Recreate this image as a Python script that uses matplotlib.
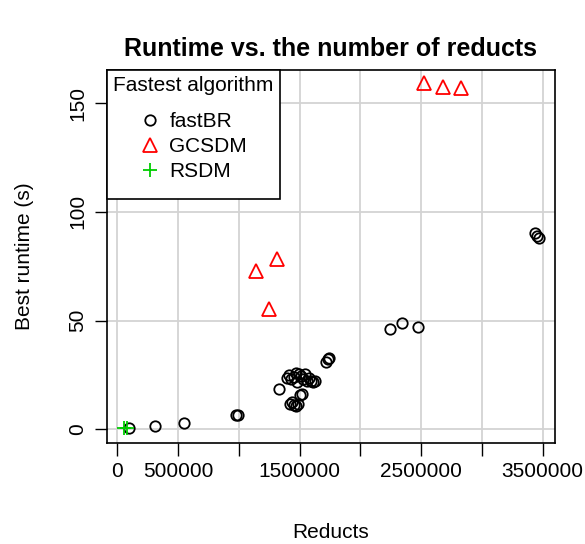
import matplotlib
matplotlib.use("Agg")
import matplotlib.pyplot as plt

plt.rcParams['font.family'] = ['Liberation Sans', 'DejaVu Sans']

# fastBR: reducts and best runtime (s)
fastbr_x = [95000, 310000, 549000, 975000, 990000, 1331000,
            1397000, 1413000, 1430000, 1454000, 1471000, 1479000, 1495000,
            1512000, 1528000, 1545000, 1561000, 1578000, 1594000, 1611000, 1627000,
            1421000, 1438000, 1454000, 1471000, 1487000, 1504000, 1520000,
            1718000, 1734000, 1742000,
            2244000, 2341000, 2477000,
            3438000, 3455000, 3471000]
fastbr_y = [0.5, 1.5, 2.9, 6.4, 6.7, 18.5,
            23.6, 25.0, 23.1, 24.1, 25.9, 21.8, 25.5,
            24.5, 23.1, 25.5, 22.2, 23.6, 22.2, 21.8, 22.2,
            11.6, 12.6, 11.2, 10.7, 11.6, 15.8, 16.2,
            31.0, 32.3, 32.8,
            46.0, 49.0, 47.2,
            90.2, 88.9, 88.0]

# GCSDM
gcsdm_x = [1139000, 1248000, 1317000, 2527000, 2678000, 2826000]
gcsdm_y = [73.0, 55.4, 78.2, 159.2, 157.4, 156.9]

# RSDM
rsdm_x = [57000, 77000]
rsdm_y = [0.4, 0.5]

x_ticks = [0, 500000, 1000000, 1500000, 2000000, 2500000, 3000000, 3500000]
x_labels = ['0', '500000', '', '1500000', '', '2500000', '', '3500000']
y_ticks = [0, 50, 100, 150]

fig = plt.figure(figsize=(5.85, 5.44), dpi=100)
ax = fig.add_axes([0.1824, 0.1862, 0.7663, 0.6851])

ax.grid(True, color='#D3D3D3', linewidth=1.3)
ax.set_axisbelow(True)

ax.plot(fastbr_x, fastbr_y, linestyle='none', marker='o', markersize=7.5,
        markerfacecolor='none', markeredgecolor='black', markeredgewidth=1.3,
        label='fastBR')
ax.plot(gcsdm_x, gcsdm_y, linestyle='none', marker='^', markersize=9.5,
        markerfacecolor='none', markeredgecolor='#FF0000', markeredgewidth=1.3,
        label='GCSDM')
ax.plot(rsdm_x, rsdm_y, linestyle='none', marker='+', markersize=10,
        markeredgecolor='#00CD00', markeredgewidth=1.3, label='RSDM')

ax.set_xlim(-87000, 3602000)
ax.set_ylim(-6.2, 165.3)
ax.set_xticks(x_ticks)
ax.set_xticklabels(x_labels)
ax.set_yticks(y_ticks)
ax.set_yticklabels([str(v) for v in y_ticks], rotation=90, va='center')
ax.tick_params(direction='out', length=9, width=1, labelsize=15, pad=5)

for sp in ax.spines.values():
    sp.set_linewidth(1.2)
    sp.set_color('black')

ax.set_title('Runtime vs. the number of reducts', fontsize=18,
             fontweight='bold', pad=10)
ax.set_xlabel('Reducts', fontsize=15, labelpad=30)
ax.set_ylabel('Best runtime (s)', fontsize=15, labelpad=25)

leg = ax.legend(title='Fastest algorithm', loc='upper left',
                bbox_to_anchor=(0, 1), borderaxespad=0, fancybox=False,
                fontsize=15, title_fontsize=15, handlelength=1.0,
                handletextpad=0.45, labelspacing=0.3, borderpad=0.3,
                framealpha=1)
leg.get_frame().set_edgecolor('black')
leg.get_frame().set_linewidth(1.2)
# extra room between the title and the entries, and below the entries
leg._legend_box.sep = 4
leg._legend_handle_box.pad = 8

fig.savefig('out.png', dpi=100)
